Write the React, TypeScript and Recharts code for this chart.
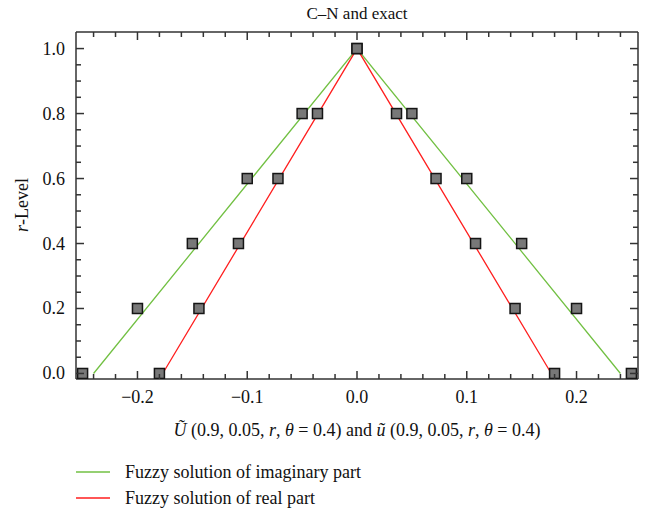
import React from "react";
import { ComposedChart, Line, Scatter, XAxis, YAxis } from "recharts";

// r-levels shared by the markers (exact solution)
const markerR = [0, 0.2, 0.4, 0.6, 0.8, 1.0, 0.8, 0.6, 0.4, 0.2, 0];
const exactImagX = [-0.25, -0.2, -0.15, -0.1, -0.05, 0, 0.05, 0.1, 0.15, 0.2, 0.25];
const exactRealX = [-0.18, -0.144, -0.108, -0.072, -0.036, 0, 0.036, 0.072, 0.108, 0.144, 0.18];

// C-N fuzzy solution lines
const lineR = [0, 1, 0];
const imagLineX = [-0.24, 0, 0.24];
const realLineX = [-0.177, 0, 0.177];

const xMajor = [-0.2, -0.1, 0, 0.1, 0.2];
const xMinor = [-0.24, -0.22, -0.2, -0.18, -0.16, -0.14, -0.12, -0.1, -0.08, -0.06, -0.04, -0.02, 0, 0.02, 0.04, 0.06, 0.08, 0.1, 0.12, 0.14, 0.16, 0.18, 0.2, 0.22, 0.24];
const yMajor = [0, 0.2, 0.4, 0.6, 0.8, 1.0];
const yMinor = [0, 0.05, 0.1, 0.15, 0.2, 0.25, 0.3, 0.35, 0.4, 0.45, 0.5, 0.55, 0.6, 0.65, 0.7, 0.75, 0.8, 0.85, 0.9, 0.95, 1.0];

const GREEN = "#72c043";
const RED = "#ff1e1e";
const AXIS = "#333333";
const FONT = "'Liberation Serif', 'DejaVu Serif', serif";

const zip = (xs: number[], ys: number[]) => xs.map((x, i) => ({ x, r: ys[i] }));
const isMajor = (v: number, list: number[]) => list.some((m) => Math.abs(m - v) < 1e-6);
const fmt = (v: number) => v.toFixed(1).replace("-", "\u2212");

const BottomTick = (p: any) => {
  const major = isMajor(p.payload.value, xMajor);
  return (
    <g>
      <line x1={p.x} x2={p.x} y1={p.y} y2={p.y - (major ? 8 : 5)} stroke={AXIS} strokeWidth={1.5} />
      {major && (
        <text x={p.x} y={p.y + 24} textAnchor="middle" fontSize={18} fontFamily={FONT} fill="#111">
          {fmt(p.payload.value)}
        </text>
      )}
    </g>
  );
};

const TopTick = (p: any) => {
  const major = isMajor(p.payload.value, xMajor);
  return <line x1={p.x} x2={p.x} y1={p.y} y2={p.y + (major ? 8 : 5)} stroke={AXIS} strokeWidth={1.5} />;
};

const LeftTick = (p: any) => {
  const major = isMajor(p.payload.value, yMajor);
  return (
    <g>
      <line x1={p.x} x2={p.x + (major ? 8 : 5)} y1={p.y} y2={p.y} stroke={AXIS} strokeWidth={1.5} />
      {major && (
        <text x={p.x - 11} y={p.y + 6} textAnchor="end" fontSize={18} fontFamily={FONT} fill="#111">
          {fmt(p.payload.value)}
        </text>
      )}
    </g>
  );
};

const RightTick = (p: any) => {
  const major = isMajor(p.payload.value, yMajor);
  return <line x1={p.x} x2={p.x - (major ? 8 : 5)} y1={p.y} y2={p.y} stroke={AXIS} strokeWidth={1.5} />;
};

const SquareMarker = (p: any) => (
  <rect x={p.cx - 5} y={p.cy - 5} width={10} height={10} fill="#787878" stroke="#151515" strokeWidth={1.5} />
);

export default function App() {
  const xDomain = [-0.256, 0.256];
  const yDomain = [-0.017, 1.051];
  return (
    <div style={{ position: "absolute", left: 0, top: 0, width: 645, height: 515, background: "#fff", fontFamily: FONT }}>
      <ComposedChart width={645} height={515} margin={{ top: 31, left: 75, right: 6, bottom: 135 }}>
        <XAxis xAxisId="b" type="number" dataKey="x" domain={xDomain} ticks={xMinor} interval={0} height={1}
          tickSize={0} tickMargin={0} tickLine={false} tick={BottomTick} stroke={AXIS} strokeWidth={1.5} allowDataOverflow />
        <XAxis xAxisId="t" orientation="top" type="number" dataKey="x" domain={xDomain} ticks={xMinor} interval={0} height={1}
          tickSize={0} tickMargin={0} tickLine={false} tick={TopTick} stroke={AXIS} strokeWidth={1.5} allowDataOverflow />
        <YAxis yAxisId="l" type="number" dataKey="r" domain={yDomain} ticks={yMinor} interval={0} width={1}
          tickSize={0} tickMargin={0} tickLine={false} tick={LeftTick} stroke={AXIS} strokeWidth={1.5} allowDataOverflow />
        <YAxis yAxisId="r" orientation="right" type="number" dataKey="r" domain={yDomain} ticks={yMinor} interval={0} width={1}
          tickSize={0} tickMargin={0} tickLine={false} tick={RightTick} stroke={AXIS} strokeWidth={1.5} allowDataOverflow />

        <Scatter xAxisId="b" yAxisId="l" data={zip(exactImagX, markerR)} dataKey="r" shape={SquareMarker} isAnimationActive={false} />
        <Scatter xAxisId="b" yAxisId="l" data={zip(exactRealX, markerR)} dataKey="r" shape={SquareMarker} isAnimationActive={false} />

        <Line xAxisId="b" yAxisId="l" data={zip(imagLineX, lineR)} dataKey="r" type="linear" stroke={GREEN} strokeWidth={1.3} dot={false} isAnimationActive={false} />
        <Line xAxisId="b" yAxisId="l" data={zip(realLineX, lineR)} dataKey="r" type="linear" stroke={RED} strokeWidth={1.3} dot={false} isAnimationActive={false} />

        <text x={357} y={19} textAnchor="middle" fontSize={17} fontFamily={FONT} fill="#111">C–N and exact</text>
        <text x={357} y={436} textAnchor="middle" fontSize={18} fontFamily={FONT} fill="#111">
          <tspan fontStyle="italic">{"U\u0303"}</tspan>
          <tspan>{" (0.9, 0.05, "}</tspan>
          <tspan fontStyle="italic">r</tspan>
          <tspan>{", "}</tspan>
          <tspan fontStyle="italic">θ</tspan>
          <tspan>{" = 0.4) and "}</tspan>
          <tspan fontStyle="italic">{"u\u0303"}</tspan>
          <tspan>{" (0.9, 0.05, "}</tspan>
          <tspan fontStyle="italic">r</tspan>
          <tspan>{", "}</tspan>
          <tspan fontStyle="italic">θ</tspan>
          <tspan>{" = 0.4)"}</tspan>
        </text>
        <text transform="translate(28,205) rotate(-90)" textAnchor="middle" fontSize={18} fontFamily={FONT} fill="#111">
          <tspan fontStyle="italic">r</tspan>
          <tspan>-Level</tspan>
        </text>
      </ComposedChart>
      <svg width={645} height={60} style={{ position: "absolute", left: 0, top: 455 }}>
        <line x1={76} x2={110} y1={17} y2={17} stroke={GREEN} strokeWidth={1.5} />
        <text x={125} y={23} fontSize={18} fontFamily={FONT} fill="#111">Fuzzy solution of imaginary part</text>
        <line x1={76} x2={110} y1={43} y2={43} stroke={RED} strokeWidth={1.5} />
        <text x={125} y={49} fontSize={18} fontFamily={FONT} fill="#111">Fuzzy solution of real part</text>
      </svg>
    </div>
  );
}
